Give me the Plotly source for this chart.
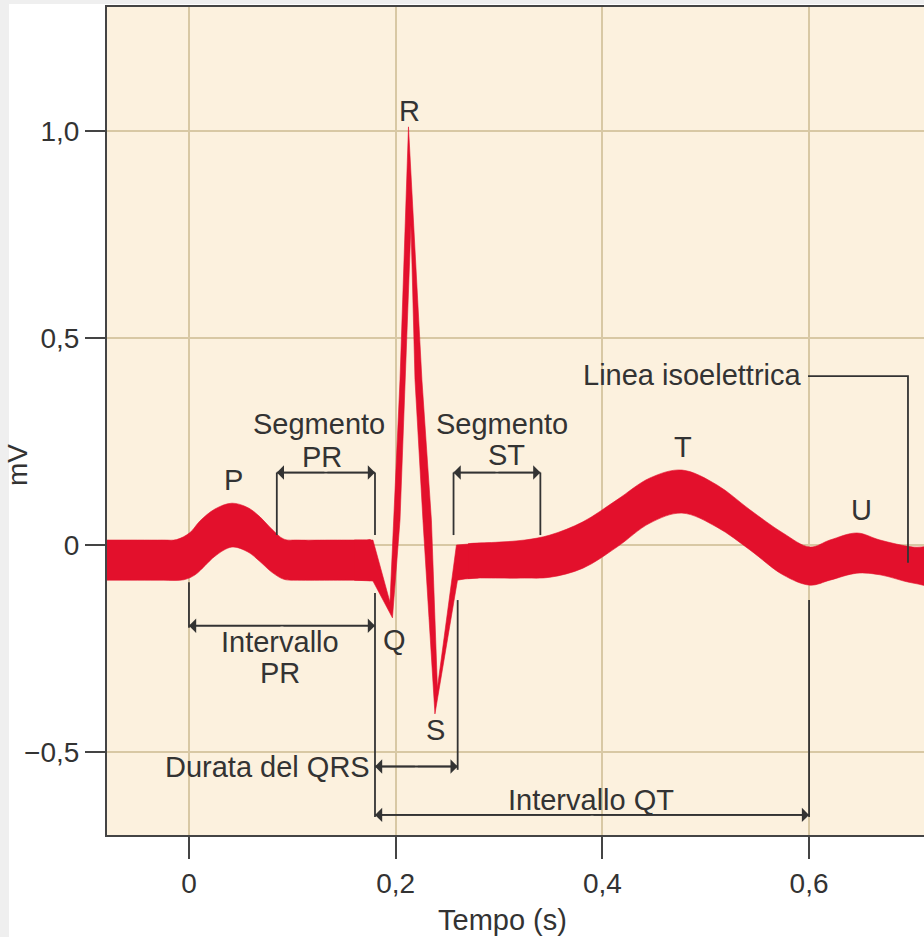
import plotly.graph_objects as go

# ---- ECG waveform outline (time in s, voltage in mV) ----
# smooth band before the QRS complex (P wave, PR segment)
left_top_t = [-0.09, -0.05, -0.025, -0.012, 0.001, 0.0106, 0.0252, 0.0416, 0.0571, 0.0687, 0.0803,
              0.092, 0.105, 0.140, 0.168, 0.172, 0.176]
left_top = [0.012, 0.012, 0.012, 0.013, 0.030, 0.058, 0.087, 0.101, 0.090, 0.068, 0.038,
            0.014, 0.012, 0.012, 0.012, 0.012, 0.012]
left_bottom_t = [-0.09, -0.05, -0.025, -0.005, 0.006, 0.0155, 0.0252, 0.0416, 0.0571, 0.0687, 0.0803,
                 0.092, 0.105, 0.140, 0.168, 0.172, 0.176]
left_bottom = [-0.085, -0.085, -0.085, -0.084, -0.072, -0.050, -0.027, -0.005, -0.017, -0.040, -0.066,
               -0.083, -0.085, -0.085, -0.085, -0.085, -0.085]

# QRS complex: upper and lower edge of the stroke
qrs_top_t = [0.160, 0.178, 0.1945, 0.1979, 0.2042, 0.2124, 0.2254, 0.2346, 0.2404, 0.2588, 0.2671, 0.280]
qrs_top_mv = [0.012, 0.012, -0.138, 0.060, 0.399, 1.010, 0.399, 0.060, -0.345, 0.000, 0.002, 0.004]
qrs_bottom_t = [0.160, 0.178, 0.1969, 0.2042, 0.2090, 0.2148, 0.2187, 0.2264, 0.2380, 0.2598, 0.2671, 0.280]
qrs_bottom_mv = [-0.085, -0.087, -0.176, 0.060, 0.399, 0.773, 0.399, 0.060, -0.408, -0.085, -0.082, -0.080]

# smooth band after the QRS complex (ST segment, T and U waves)
right_t = [0.270, 0.274, 0.300, 0.3250, 0.3493, 0.3812, 0.4141, 0.4461, 0.4770, 0.5109, 0.5428, 0.5747,
           0.6009, 0.6202, 0.6463, 0.6686, 0.7005, 0.73]
right_top = [0.003, 0.004, 0.007, 0.012, 0.024, 0.056, 0.109, 0.162, 0.181, 0.145, 0.085, 0.029,
             -0.005, 0.012, 0.029, 0.012, -0.005, -0.007]
right_bottom = [-0.081, -0.080, -0.080, -0.080, -0.078, -0.056, -0.005, 0.053, 0.077, 0.043, -0.012, -0.072,
                -0.097, -0.085, -0.068, -0.072, -0.092, -0.097]

# ---- intervals (s) ----
pr_segment = [0.085, 0.18]
st_segment = [0.256, 0.34]
pr_interval = [0.0, 0.18]
qrs_duration = [0.18, 0.26]
qt_interval = [0.18, 0.60]

# axis ticks
x_ticks = [0, 0.2, 0.4, 0.6]
x_ticktext = ["0", "0,2", "0,4", "0,6"]
y_ticks = [-0.5, 0, 0.5, 1.0]
y_ticktext = ["\u22120,5", "0", "0,5", "1,0"]

RED = "#e3102c"
INK = "#333333"
FONT = "Liberation Sans, Arial, Helvetica, sans-serif"
FS = 29
TICK_FS = 28


def outline(t_top, y_top, t_bot, y_bot):
    return list(t_top) + list(t_bot)[::-1], list(y_top) + list(y_bot)[::-1]


fig = go.Figure()

for tt, yt, tb, yb, shape in [
    (left_top_t, left_top, left_bottom_t, left_bottom, "spline"),
    (qrs_top_t, qrs_top_mv, qrs_bottom_t, qrs_bottom_mv, "linear"),
    (right_t, right_top, right_t, right_bottom, "spline"),
]:
    xs, ys = outline(tt, yt, tb, yb)
    fig.add_trace(go.Scatter(
        x=xs, y=ys, mode="lines", fill="toself", fillcolor=RED,
        line=dict(color=RED, width=0.6, shape=shape, smoothing=1),
        hoverinfo="skip", showlegend=False,
    ))

# bracket guide lines
guides_x, guides_y = [], []


def vline(x, y0, y1):
    guides_x.extend([x, x, None])
    guides_y.extend([y0, y1, None])


def hline(x0, x1, y):
    guides_x.extend([x0, x1, None])
    guides_y.extend([y, y, None])


SEG_Y = 0.175
vline(pr_segment[0], SEG_Y, 0.024)
vline(pr_segment[1], SEG_Y, 0.024)
vline(st_segment[0], SEG_Y, 0.024)
vline(st_segment[1], SEG_Y, 0.024)
vline(pr_interval[0], -0.090, -0.200)
vline(pr_interval[1], -0.116, -0.657)
vline(qrs_duration[1], -0.133, -0.543)
vline(qt_interval[1], -0.133, -0.657)

arrows = [
    (pr_segment, SEG_Y),
    (st_segment, SEG_Y),
    (pr_interval, -0.195),
    (qrs_duration, -0.535),
    (qt_interval, -0.652),
]
for (a, b), y in arrows:
    hline(a, b, y)

# leader line for the isoelectric line label
guides_x.extend([0.599, 0.6957, 0.6957, None])
guides_y.extend([0.408, 0.408, -0.043, None])

fig.add_trace(go.Scatter(
    x=guides_x, y=guides_y, mode="lines",
    line=dict(color=INK, width=1.8), hoverinfo="skip", showlegend=False,
))

annotations = []
for (a, b), y in arrows:
    mid = (a + b) / 2
    for end in (a, b):
        annotations.append(dict(
            x=end, y=y, ax=mid, ay=y, xref="x", yref="y", axref="x", ayref="y",
            text="", showarrow=True, arrowhead=1, arrowsize=1.5, arrowwidth=1.6,
            arrowcolor=INK, standoff=0,
        ))

texts = [
    ("P", 0.0429, 0.157, "center"),
    ("Q", 0.1984, -0.229, "center"),
    ("R", 0.2138, 1.048, "center"),
    ("S", 0.239, -0.447, "center"),
    ("T", 0.478, 0.237, "center"),
    ("U", 0.651, 0.085, "center"),
    ("Segmento", 0.1263, 0.292, "center"),
    ("PR", 0.1287, 0.213, "center"),
    ("Segmento", 0.3026, 0.292, "center"),
    ("ST", 0.3074, 0.217, "center"),
    ("Intervallo", 0.088, -0.234, "center"),
    ("PR", 0.088, -0.309, "center"),
    ("Durata del QRS", 0.177, -0.536, "right"),
    ("Intervallo QT", 0.389, -0.616, "center"),
    ("Linea isoelettrica", 0.594, 0.411, "right"),
]
for txt, x, y, anchor in texts:
    annotations.append(dict(
        x=x, y=y, xref="x", yref="y", text=txt, showarrow=False,
        xanchor=anchor, yanchor="middle",
        font=dict(family=FONT, size=FS, color=INK),
    ))

# axis titles
annotations.append(dict(
    x=-0.1089, y=0.4469, xref="paper", yref="paper", text="mV", showarrow=False,
    textangle=-90, xanchor="center", yanchor="middle",
    font=dict(family=FONT, size=TICK_FS, color=INK),
))
annotations.append(dict(
    x=0.4835, y=-0.1027, xref="paper", yref="paper", text="Tempo (s)", showarrow=False,
    xanchor="center", yanchor="middle",
    font=dict(family=FONT, size=FS, color=INK),
))

axis_common = dict(
    ticks="outside", tickwidth=2, tickcolor="#444444",
    showline=True, linecolor="#444444", linewidth=2,
    showgrid=True, gridcolor="#d8c8a4", gridwidth=1.5, zeroline=False,
    tickfont=dict(family=FONT, size=TICK_FS, color=INK),
)

fig.update_layout(
    width=924, height=937,
    margin=dict(l=107, r=0, t=7, b=102),
    plot_bgcolor="#fcf1de", paper_bgcolor="white",
    showlegend=False,
    xaxis=dict(range=[-0.0793, 0.7112], tickvals=x_ticks, ticktext=x_ticktext,
               ticklen=22, mirror=True, **axis_common),
    yaxis=dict(range=[-0.7005, 1.2995], tickvals=y_ticks, ticktext=y_ticktext,
               ticklen=20, **axis_common),
    annotations=annotations,
    shapes=[
        dict(type="rect", xref="paper", yref="paper", x0=-0.131, x1=-0.11995,
             y0=-0.1232, y1=1.0085, fillcolor="#efefef", line=dict(width=0), layer="below"),
        dict(type="rect", xref="paper", yref="paper", x0=-0.131, x1=1.0,
             y0=1.0036, y1=1.0085, fillcolor="#efefef", line=dict(width=0), layer="below"),
    ],
)

fig.write_html("out.html")
